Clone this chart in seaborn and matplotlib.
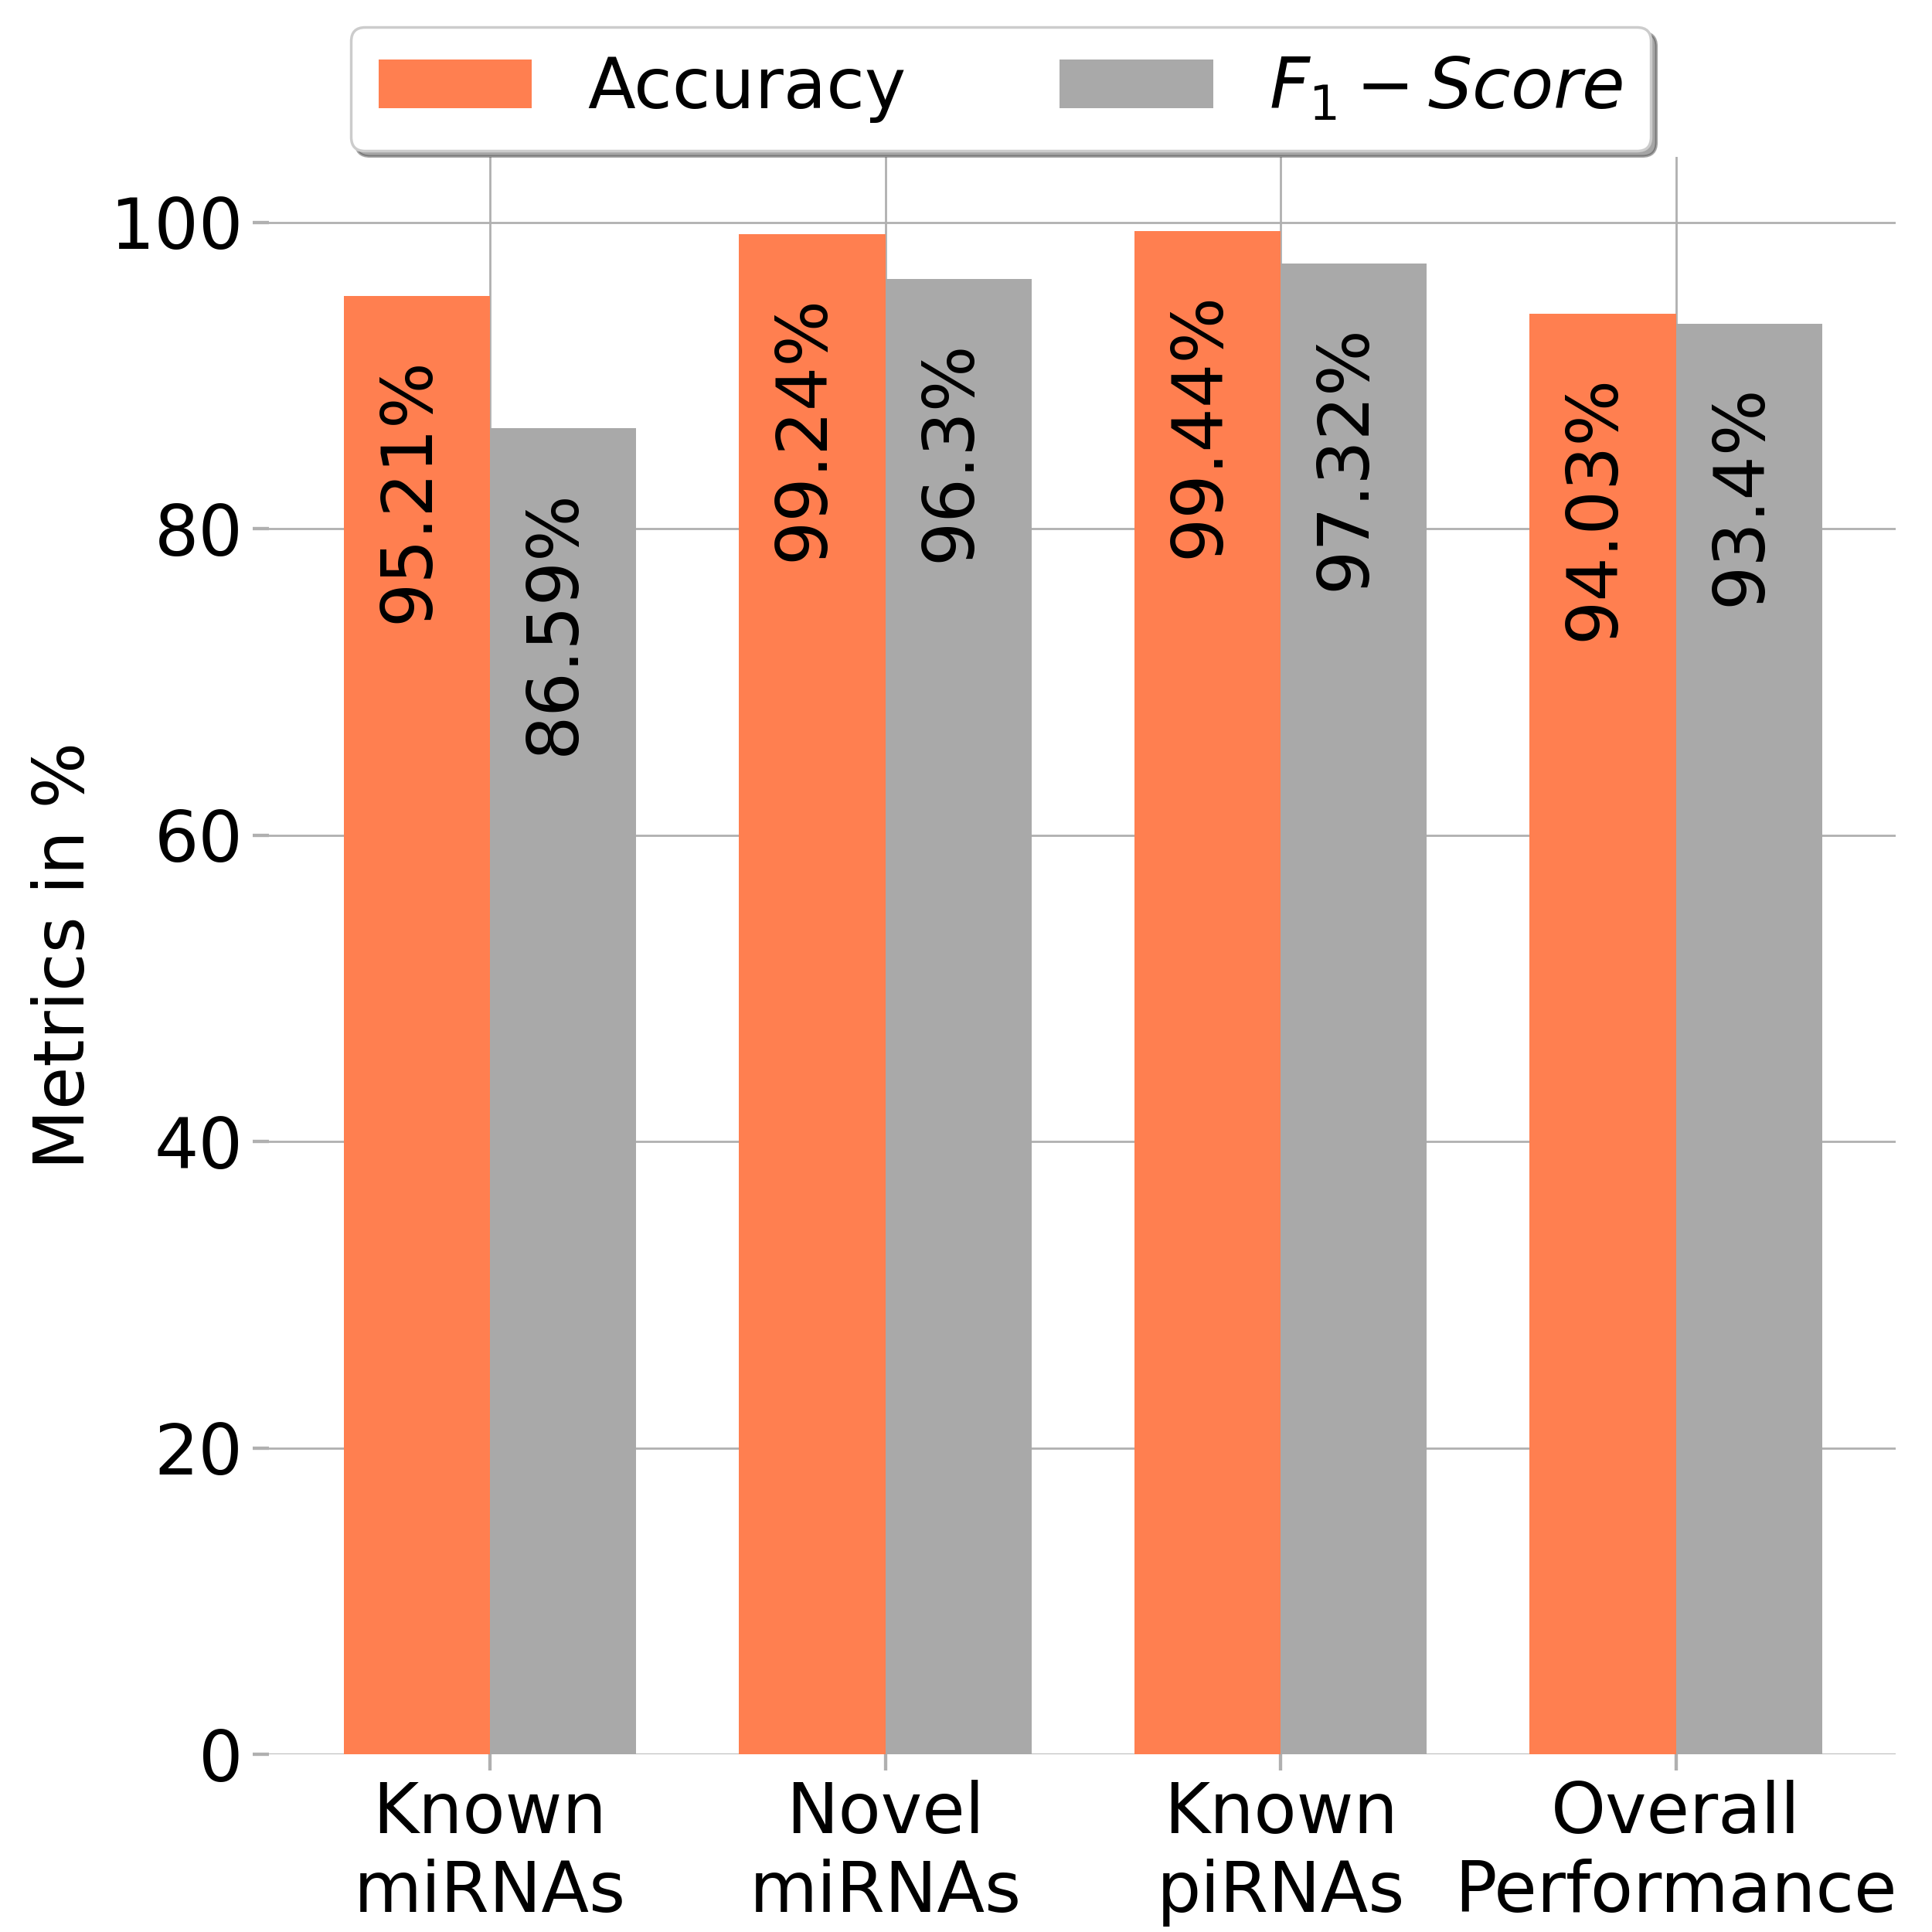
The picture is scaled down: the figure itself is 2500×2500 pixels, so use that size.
import matplotlib
matplotlib.use("Agg")
import matplotlib.pyplot as plt
import seaborn as sns
import pandas as pd

categories = ["Known\nmiRNAs", "Novel\nmiRNAs", "Known\npiRNAs", "Overall\nPerformance"]
accuracy = [95.21, 99.24, 99.44, 94.03]
f1 = [86.59, 96.3, 97.32, 93.4]
acc_labels = ["95.21%", "99.24%", "99.44%", "94.03%"]
f1_labels = ["86.59%", "96.3%", "97.32%", "93.4%"]
series = ["Accuracy", r"$F_1-Score$"]

df = pd.DataFrame({
    "cat": categories * 2,
    "val": accuracy + f1,
    "metric": [series[0]] * 4 + [series[1]] * 4,
})

sns.set_theme(style="whitegrid")
plt.rcParams['font.family'] = ['DejaVu Sans']
plt.rcParams['text.color'] = 'black'
plt.rcParams['axes.labelcolor'] = 'black'
fig = plt.figure(figsize=(10, 10), dpi=250)
ax = fig.add_axes([0.139, 0.092, 0.842, 0.827])
sns.barplot(data=df, x="cat", y="val", hue="metric", ax=ax,
            palette=["#FF7F50", "#A9A9A9"], width=0.74, saturation=1, legend=True,
            linewidth=0, edgecolor="none")
ax.set_axisbelow(True)
ax.grid(True, color="#b0b0b0", linewidth=0.8)
for s in ax.spines.values():
    s.set_visible(False)
ax.set_ylim(0, 104.3)
ax.set_xlim(-0.56, 3.555)
ax.set_yticks([0, 20, 40, 60, 80, 100])
ax.tick_params(axis="both", labelsize=26, length=6, left=True, bottom=True,
               color="#b0b0b0", labelcolor="black")
ax.set_xlabel("")
ax.set_ylabel("Metrics in %", fontsize=26, color="black")

for cont, labs in zip(ax.containers, [acc_labels, f1_labels]):
    for bar, lab in zip(cont, labs):
        ax.text(bar.get_x() + bar.get_width() / 2 - 0.02, bar.get_height() - 4, lab,
                rotation=90, ha="center", va="top", fontsize=26, color="black")

handles, labels = ax.get_legend_handles_labels()
ax.get_legend().remove()
leg = fig.legend(handles, labels, loc="upper center", bbox_to_anchor=(0.518, 1.004), ncol=2,
           fontsize=26, frameon=True, shadow=True, fancybox=True, handlelength=2.2,
           columnspacing=2.2, edgecolor="#cccccc")
for t in leg.get_texts():
    t.set_color("black")
fig.savefig("out.png", dpi=250)
